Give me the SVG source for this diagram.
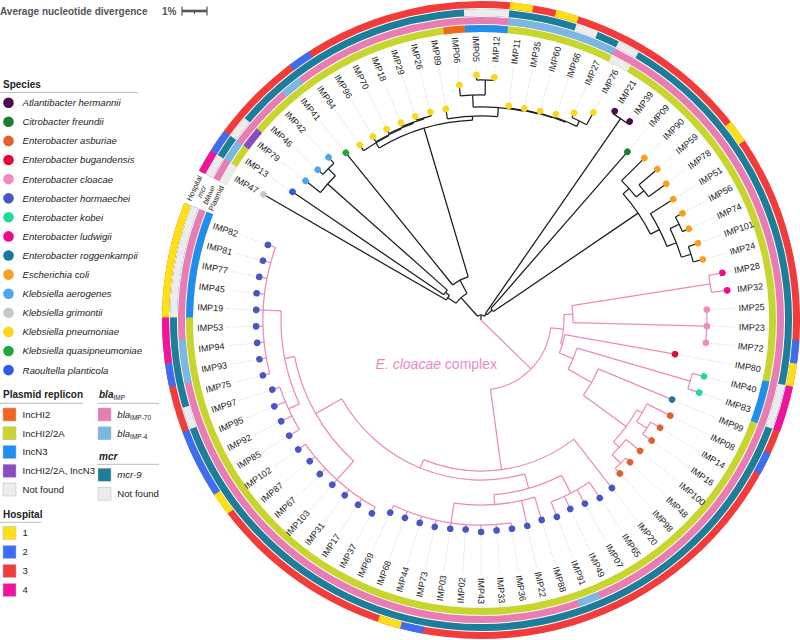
<svg xmlns="http://www.w3.org/2000/svg" width="800" height="640" viewBox="0 0 800 640">
<style>
text{font-family:"Liberation Sans",Arial,sans-serif}
.ttl{font-size:10px;font-weight:bold;fill:#555}
.hd{font-size:10px;font-weight:bold;fill:#222}
.lg{font-size:9.6px;fill:#222}
.it{font-style:italic}
.ul{stroke:#aaa;stroke-width:0.8}
.sq{stroke:#bbb;stroke-width:0.5}
.rg{fill:none;stroke-width:7}
.t{fill:none;stroke-width:1.25}
.k{stroke:#1c1c1c}
.p{stroke:#ea8bbf}
.dl{fill:none;stroke:#c4c4c4;stroke-width:0.7;stroke-dasharray:1 1.6}
.lb{font-size:9px;fill:#1a1a1a}
.fl{text-anchor:end}
.rl{font-size:7.5px;fill:#222;text-anchor:middle}
.c-lime{stroke:#c8d52e}.c-gray{stroke:#ececec}.c-pur{stroke:#8a4cc0}.c-org{stroke:#f3661c}.c-inc{stroke:#1e8ff0}
.c-pink{stroke:#e97db3}.c-lb{stroke:#7ab8e3}.c-teal{stroke:#1d7e9a}
.c-red{stroke:#f23c3c}.c-yel{stroke:#ffe014}.c-blu{stroke:#3b6ef0}.c-mag{stroke:#f0149c}
.f-lime{fill:#c8d52e}.f-gray{fill:#ececec}.f-pur{fill:#8a4cc0}.f-org{fill:#f3661c}.f-inc{fill:#1e8ff0}
.f-pink{fill:#e97db3}.f-lb{fill:#7ab8e3}.f-teal{fill:#1d7e9a}
.f-red{fill:#f23c3c}.f-yel{fill:#ffe014}.f-blu{fill:#3b6ef0}.f-mag{fill:#f0149c}
.atl{fill:#4c0b4f}.cit{fill:#1c7d2d}.asb{fill:#e0612c}.bug{fill:#e0083c}.clo{fill:#f18bbe}.hor{fill:#4756c3}.kob{fill:#1fda9d}.lud{fill:#f00b8d}.rog{fill:#1b789a}.eco{fill:#f5a11b}.aer{fill:#4ba6ee}.gri{fill:#c3c8cc}.pne{fill:#fbd61a}.qua{fill:#1ea83d}.rao{fill:#2e5ae6}
</style>

<g id="scale">
<text class="ttl" x="0" y="14.5">Average nucleotide divergence</text>
<text class="ttl" x="162" y="14.5">1%</text>
<path d="M182 11H207" stroke="#555" stroke-width="2.6"/>
<path d="M182 6.5V15.5M207 6.5V15.5M194.5 11V14" stroke="#555" stroke-width="1.2"/>
</g>

<g id="legend-species">
<text class="hd" x="3" y="88">Species</text>
<path class="ul" d="M0 92.5H138"/>
<circle class="atl" cx="8.5" cy="102.7" r="5.3"/><text class="lg it" x="22.5" y="106.1">Atlantibacter hermannii</text>
<circle class="cit" cx="8.5" cy="121.8" r="5.3"/><text class="lg it" x="22.5" y="125.2">Citrobacter freundii</text>
<circle class="asb" cx="8.5" cy="140.9" r="5.3"/><text class="lg it" x="22.5" y="144.3">Enterobacter asburiae</text>
<circle class="bug" cx="8.5" cy="160" r="5.3"/><text class="lg it" x="22.5" y="163.4">Enterobacter bugandensis</text>
<circle class="clo" cx="8.5" cy="179.1" r="5.3"/><text class="lg it" x="22.5" y="182.5">Enterobacter cloacae</text>
<circle class="hor" cx="8.5" cy="198.2" r="5.3"/><text class="lg it" x="22.5" y="201.6">Enterobacter hormaechei</text>
<circle class="kob" cx="8.5" cy="217.3" r="5.3"/><text class="lg it" x="22.5" y="220.7">Enterobacter kobei</text>
<circle class="lud" cx="8.5" cy="236.4" r="5.3"/><text class="lg it" x="22.5" y="239.8">Enterobacter ludwigii</text>
<circle class="rog" cx="8.5" cy="255.5" r="5.3"/><text class="lg it" x="22.5" y="258.9">Enterobacter roggenkampii</text>
<circle class="eco" cx="8.5" cy="274.6" r="5.3"/><text class="lg it" x="22.5" y="278">Escherichia coli</text>
<circle class="aer" cx="8.5" cy="293.7" r="5.3"/><text class="lg it" x="22.5" y="297.1">Klebsiella aerogenes</text>
<circle class="gri" cx="8.5" cy="312.8" r="5.3"/><text class="lg it" x="22.5" y="316.2">Klebsiella grimontii</text>
<circle class="pne" cx="8.5" cy="331.9" r="5.3"/><text class="lg it" x="22.5" y="335.3">Klebsiella pneumoniae</text>
<circle class="qua" cx="8.5" cy="351" r="5.3"/><text class="lg it" x="22.5" y="354.4">Klebsiella quasipneumoniae</text>
<circle class="rao" cx="8.5" cy="370.1" r="5.3"/><text class="lg it" x="22.5" y="373.5">Raoultella planticola</text>
</g>

<g id="legend-plasmid">
<text class="hd" x="3" y="398">Plasmid replicon</text>
<path class="ul" d="M0 403.3H83"/>
<rect class="sq f-org" x="3" y="408" width="13" height="13"/><text class="lg" x="22.5" y="417.9">IncHI2</text>
<rect class="sq f-lime" x="3" y="426.8" width="13" height="13"/><text class="lg" x="22.5" y="436.7">IncHI2/2A</text>
<rect class="sq f-inc" x="3" y="445.5" width="13" height="13"/><text class="lg" x="22.5" y="455.4">IncN3</text>
<rect class="sq f-pur" x="3" y="464.3" width="13" height="13"/><text class="lg" x="22.5" y="474.2">IncHI2/2A, IncN3</text>
<rect class="sq f-gray" x="3" y="483" width="13" height="13"/><text class="lg" x="22.5" y="492.9">Not found</text>
</g>

<g id="legend-bla">
<text class="hd it" x="99" y="398">bla<tspan font-size="6.5" font-weight="normal" font-style="normal" dy="2">IMP</tspan></text>
<path class="ul" d="M97 403.3H159"/>
<rect class="sq f-pink" x="98" y="408" width="13" height="13"/><text class="lg" x="117.3" y="417.9"><tspan class="it">bla</tspan><tspan font-size="6.5" dy="2">IMP-70</tspan></text>
<rect class="sq f-lb" x="98" y="426.8" width="13" height="13"/><text class="lg" x="117.3" y="436.7"><tspan class="it">bla</tspan><tspan font-size="6.5" dy="2">IMP-4</tspan></text>
</g>

<g id="legend-mcr">
<text class="hd it" x="99" y="460">mcr</text>
<path class="ul" d="M97 464.3H159"/>
<rect class="sq f-teal" x="98" y="468.2" width="13" height="13"/><text class="lg it" x="117.3" y="478.1">mcr-9</text>
<rect class="sq f-gray" x="98" y="487.2" width="13" height="13"/><text class="lg" x="117.3" y="497.1">Not found</text>
</g>

<g id="legend-hospital">
<text class="hd" x="3" y="518">Hospital</text>
<path class="ul" d="M0 522.3H41"/>
<rect class="sq f-yel" x="3" y="526.5" width="13" height="13"/><text class="lg" x="22.5" y="536.4">1</text>
<rect class="sq f-blu" x="3" y="545.5" width="13" height="13"/><text class="lg" x="22.5" y="555.4">2</text>
<rect class="sq f-red" x="3" y="564.5" width="13" height="13"/><text class="lg" x="22.5" y="574.4">3</text>
<rect class="sq f-mag" x="3" y="583.5" width="13" height="13"/><text class="lg" x="22.5" y="593.4">4</text>
</g>

<g id="rings" transform="translate(481,320)">
<g id="ring-plasmid">
<circle r="291.5" class="rg c-lime" pathLength="360" stroke-dasharray="353.64 400" transform="rotate(207.895)"/>
<circle r="291.5" class="rg c-gray" pathLength="360" stroke-dasharray="4.21 400" transform="rotate(207.895)"/>
<circle r="291.5" class="rg c-gray" pathLength="360" stroke-dasharray="4.21 400" transform="rotate(296.305)"/>
<circle r="291.5" class="rg c-pur" pathLength="360" stroke-dasharray="4.21 400" transform="rotate(216.315)"/>
<circle r="291.5" class="rg c-org" pathLength="360" stroke-dasharray="4.21 400" transform="rotate(262.625)"/>
<circle r="291.5" class="rg c-inc" pathLength="360" stroke-dasharray="8.42 400" transform="rotate(266.835)"/>
<circle r="291.5" class="rg c-inc" pathLength="360" stroke-dasharray="8.42 400" transform="rotate(12.085)"/>
<circle r="291.5" class="rg c-inc" pathLength="360" stroke-dasharray="21.05 400" transform="rotate(180.485)"/>
</g>
<g id="ring-bla">
<circle r="299.5" class="rg c-pink" pathLength="360" stroke-dasharray="353.64 400" transform="rotate(207.895)"/>
<circle r="299.5" class="rg c-lb" pathLength="360" stroke-dasharray="4.21 400" transform="rotate(212.105)"/>
<circle r="299.5" class="rg c-lb" pathLength="360" stroke-dasharray="4.21 400" transform="rotate(228.945)"/>
<circle r="299.5" class="rg c-lb" pathLength="360" stroke-dasharray="21.05 400" transform="rotate(275.255)"/>
<circle r="299.5" class="rg c-lb" pathLength="360" stroke-dasharray="4.21 400" transform="rotate(66.815)"/>
<circle r="299.5" class="rg c-lb" pathLength="360" stroke-dasharray="8.42 400" transform="rotate(167.855)"/>
</g>
<g id="ring-mcr">
<circle r="307.5" class="rg c-teal" pathLength="360" stroke-dasharray="353.64 400" transform="rotate(207.895)"/>
<circle r="307.5" class="rg c-gray" pathLength="360" stroke-dasharray="4.21 400" transform="rotate(207.895)"/>
<circle r="307.5" class="rg c-gray" pathLength="360" stroke-dasharray="4.21 400" transform="rotate(216.315)"/>
<circle r="307.5" class="rg c-gray" pathLength="360" stroke-dasharray="8.42 400" transform="rotate(266.835)"/>
<circle r="307.5" class="rg c-gray" pathLength="360" stroke-dasharray="4.21 400" transform="rotate(287.885)"/>
<circle r="307.5" class="rg c-gray" pathLength="360" stroke-dasharray="4.21 400" transform="rotate(296.305)"/>
<circle r="307.5" class="rg c-gray" pathLength="360" stroke-dasharray="8.42 400" transform="rotate(12.085)"/>
<circle r="307.5" class="rg c-gray" pathLength="360" stroke-dasharray="4.21 400" transform="rotate(159.435)"/>
<circle r="307.5" class="rg c-gray" pathLength="360" stroke-dasharray="21.05 400" transform="rotate(180.485)"/>
</g>
<g id="ring-hospital">
<circle r="315.5" class="rg c-red" pathLength="360" stroke-dasharray="353.64 400" transform="rotate(207.895)"/>
<circle r="315.5" class="rg c-mag" pathLength="360" stroke-dasharray="4.21 400" transform="rotate(207.895)"/>
<circle r="315.5" class="rg c-mag" pathLength="360" stroke-dasharray="8.42 400" transform="rotate(12.085)"/>
<circle r="315.5" class="rg c-mag" pathLength="360" stroke-dasharray="8.42 400" transform="rotate(172.065)"/>
<circle r="315.5" class="rg c-blu" pathLength="360" stroke-dasharray="4.21 400" transform="rotate(212.105)"/>
<circle r="315.5" class="rg c-blu" pathLength="360" stroke-dasharray="4.21 400" transform="rotate(233.155)"/>
<circle r="315.5" class="rg c-blu" pathLength="360" stroke-dasharray="4.21 400" transform="rotate(3.665)"/>
<circle r="315.5" class="rg c-blu" pathLength="360" stroke-dasharray="4.21 400" transform="rotate(24.715)"/>
<circle r="315.5" class="rg c-blu" pathLength="360" stroke-dasharray="4.21 400" transform="rotate(100.495)"/>
<circle r="315.5" class="rg c-blu" pathLength="360" stroke-dasharray="12.63 400" transform="rotate(146.805)"/>
<circle r="315.5" class="rg c-blu" pathLength="360" stroke-dasharray="4.21 400" transform="rotate(167.855)"/>
<circle r="315.5" class="rg c-yel" pathLength="360" stroke-dasharray="4.21 400" transform="rotate(275.255)"/>
<circle r="315.5" class="rg c-yel" pathLength="360" stroke-dasharray="4.21 400" transform="rotate(283.675)"/>
<circle r="315.5" class="rg c-yel" pathLength="360" stroke-dasharray="4.21 400" transform="rotate(321.565)"/>
<circle r="315.5" class="rg c-yel" pathLength="360" stroke-dasharray="4.21 400" transform="rotate(7.875)"/>
<circle r="315.5" class="rg c-yel" pathLength="360" stroke-dasharray="4.21 400" transform="rotate(104.705)"/>
<circle r="315.5" class="rg c-yel" pathLength="360" stroke-dasharray="4.21 400" transform="rotate(142.595)"/>
<circle r="315.5" class="rg c-yel" pathLength="360" stroke-dasharray="21.05 400" transform="rotate(180.485)"/>
</g>
<g id="ring-labels" transform="rotate(204.7)">
<text class="rl" transform="translate(315.5,0) rotate(90)" dy="0.35em">Hospital</text>
<text class="rl it" transform="translate(307.5,0) rotate(90)" dy="0.35em">mcr</text>
<text class="rl" transform="translate(299.5,0) rotate(90)" dy="0.35em"><tspan class="it">bla</tspan><tspan font-size="5.5">IMP</tspan></text>
<text class="rl" transform="translate(291.5,0) rotate(90)" dy="0.35em">Plasmid</text>
</g>
</g>

<g id="connectors" transform="translate(481,320)">
<g id="black-clade" class="t k">
<path d="M0 0H5" transform="rotate(269.835)"/>
<circle r="5" pathLength="360" stroke-dasharray="83.47 400" transform="rotate(228.1)"/>
<path d="M5 0H30" transform="rotate(228.1)"/>
<path d="M5 0H8" transform="rotate(311.57)"/>
<circle r="30" pathLength="360" stroke-dasharray="28.31 400" transform="rotate(213.95)"/>
<path d="M30 0H40" transform="rotate(213.95)"/>
<path d="M30 0H45" transform="rotate(242.26)"/>
<circle r="40" pathLength="360" stroke-dasharray="7.9 400" transform="rotate(210)"/>
<path d="M40 0H251" transform="rotate(210)"/>
<path d="M40 0H45" transform="rotate(217.9)"/>
<circle r="45" pathLength="360" stroke-dasharray="7.37 400" transform="rotate(214.21)"/>
<path d="M45 0H228" transform="rotate(214.21)"/>
<path d="M45 0H205" transform="rotate(221.58)"/>
<circle r="205" pathLength="360" stroke-dasharray="6.32 400" transform="rotate(218.42)"/>
<path d="M205 0H224" transform="rotate(218.42)"/>
<path d="M205 0H215" transform="rotate(224.74)"/>
<circle r="215" pathLength="360" stroke-dasharray="4.21 400" transform="rotate(222.63)"/>
<path d="M215 0H222" transform="rotate(222.63)"/>
<path d="M215 0H223" transform="rotate(226.84)"/>
<circle r="45" pathLength="360" stroke-dasharray="22.42 400" transform="rotate(231.05)"/>
<path d="M45 0H215" transform="rotate(231.05)"/>
<path d="M45 0H200" transform="rotate(253.465)"/>
<circle r="200" pathLength="360" stroke-dasharray="28.25 400" transform="rotate(239.34)"/>
<path d="M200 0H206" transform="rotate(239.34)"/>
<path d="M200 0H204" transform="rotate(267.59)"/>
<circle r="206" pathLength="360" stroke-dasharray="8.16 400" transform="rotate(235.26)"/>
<path d="M206 0H213" transform="rotate(235.26)"/>
<path d="M206 0H207" transform="rotate(243.42)"/>
<circle r="207" pathLength="360" stroke-dasharray="7.9 400" transform="rotate(239.47)"/>
<path d="M207 0H213" transform="rotate(239.47)"/>
<path d="M207 0H208" transform="rotate(247.365)"/>
<circle r="208" pathLength="360" stroke-dasharray="7.37 400" transform="rotate(243.68)"/>
<path d="M208 0H213" transform="rotate(243.68)"/>
<path d="M208 0H209" transform="rotate(251.05)"/>
<circle r="209" pathLength="360" stroke-dasharray="6.32 400" transform="rotate(247.89)"/>
<path d="M209 0H213" transform="rotate(247.89)"/>
<path d="M209 0H210" transform="rotate(254.205)"/>
<circle r="210" pathLength="360" stroke-dasharray="4.21 400" transform="rotate(252.1)"/>
<path d="M210 0H214" transform="rotate(252.1)"/>
<path d="M210 0H214" transform="rotate(256.31)"/>
<circle r="204" pathLength="360" stroke-dasharray="14.15 400" transform="rotate(260.52)"/>
<path d="M204 0H214" transform="rotate(260.52)"/>
<path d="M204 0H213" transform="rotate(274.665)"/>
<circle r="213" pathLength="360" stroke-dasharray="13.55 400" transform="rotate(267.89)"/>
<path d="M213 0H225" transform="rotate(267.89)"/>
<path d="M213 0H214" transform="rotate(281.44)"/>
<circle r="225" pathLength="360" stroke-dasharray="6.32 400" transform="rotate(264.73)"/>
<path d="M225 0H236" transform="rotate(264.73)"/>
<path d="M225 0H240" transform="rotate(271.045)"/>
<circle r="240" pathLength="360" stroke-dasharray="4.21 400" transform="rotate(268.94)"/>
<path d="M240 0H245" transform="rotate(268.94)"/>
<path d="M240 0H243" transform="rotate(273.15)"/>
<circle r="214" pathLength="360" stroke-dasharray="8.16 400" transform="rotate(277.36)"/>
<path d="M214 0H216" transform="rotate(277.36)"/>
<circle r="214.5" pathLength="360" stroke-dasharray="7.9 400" transform="rotate(281.57)"/>
<path d="M214.5 0H216" transform="rotate(281.57)"/>
<circle r="215" pathLength="360" stroke-dasharray="7.37 400" transform="rotate(285.78)"/>
<path d="M215 0H217" transform="rotate(285.78)"/>
<path d="M215 0H216" transform="rotate(293.15)"/>
<circle r="216" pathLength="360" stroke-dasharray="6.32 400" transform="rotate(289.99)"/>
<path d="M216 0H219" transform="rotate(289.99)"/>
<path d="M216 0H222" transform="rotate(296.305)"/>
<circle r="222" pathLength="360" stroke-dasharray="4.21 400" transform="rotate(294.2)"/>
<path d="M222 0H227" transform="rotate(294.2)"/>
<path d="M222 0H236" transform="rotate(298.41)"/>
<circle r="8" pathLength="360" stroke-dasharray="13.69 400" transform="rotate(304.725)"/>
<path d="M8 0H245" transform="rotate(304.725)"/>
<path d="M8 0H15" transform="rotate(318.41)"/>
<circle r="245" pathLength="360" stroke-dasharray="4.21 400" transform="rotate(302.62)"/>
<path d="M245 0H248" transform="rotate(302.62)"/>
<path d="M245 0H248" transform="rotate(306.83)"/>
<circle r="15" pathLength="360" stroke-dasharray="14.74 400" transform="rotate(311.04)"/>
<path d="M15 0H223" transform="rotate(311.04)"/>
<path d="M15 0H190" transform="rotate(325.775)"/>
<circle r="190" pathLength="360" stroke-dasharray="14.73 400" transform="rotate(318.41)"/>
<path d="M190 0H198" transform="rotate(318.41)"/>
<path d="M190 0H200" transform="rotate(333.14)"/>
<circle r="198" pathLength="360" stroke-dasharray="6.32 400" transform="rotate(315.25)"/>
<path d="M198 0H230" transform="rotate(315.25)"/>
<path d="M198 0H208" transform="rotate(321.565)"/>
<circle r="208" pathLength="360" stroke-dasharray="4.21 400" transform="rotate(319.46)"/>
<path d="M208 0H232" transform="rotate(319.46)"/>
<path d="M208 0H230" transform="rotate(323.67)"/>
<circle r="200" pathLength="360" stroke-dasharray="10.53 400" transform="rotate(327.88)"/>
<path d="M200 0H227" transform="rotate(327.88)"/>
<path d="M200 0H210" transform="rotate(338.405)"/>
<circle r="210" pathLength="360" stroke-dasharray="8.42 400" transform="rotate(334.195)"/>
<path d="M210 0H220" transform="rotate(334.195)"/>
<path d="M210 0H220" transform="rotate(342.615)"/>
<circle r="220" pathLength="360" stroke-dasharray="4.21 400" transform="rotate(332.09)"/>
<path d="M220 0H228" transform="rotate(332.09)"/>
<path d="M220 0H227" transform="rotate(336.3)"/>
<circle r="220" pathLength="360" stroke-dasharray="4.21 400" transform="rotate(340.51)"/>
<path d="M220 0H230" transform="rotate(340.51)"/>
<path d="M220 0H230" transform="rotate(344.72)"/>
</g>
<g id="cloacae-clade" class="t p">
<path d="M0 0H70" transform="rotate(44.285)"/>
<circle r="70" pathLength="360" stroke-dasharray="75.85 400" transform="rotate(6.36)"/>
<path d="M70 0H83" transform="rotate(6.36)"/>
<path d="M70 0H151" transform="rotate(82.21)"/>
<circle r="83" pathLength="360" stroke-dasharray="20.13 400" transform="rotate(-3.7)"/>
<path d="M83 0H92" transform="rotate(-3.7)"/>
<path d="M83 0H85" transform="rotate(16.425)"/>
<circle r="92" pathLength="360" stroke-dasharray="10.53 400" transform="rotate(-8.965)"/>
<path d="M92 0H232" transform="rotate(351.035)"/>
<path d="M92 0H226" transform="rotate(1.56)"/>
<circle r="232" pathLength="360" stroke-dasharray="4.21 400" transform="rotate(348.93)"/>
<path d="M232 0H246" transform="rotate(348.93)"/>
<path d="M232 0H248" transform="rotate(353.14)"/>
<circle r="226" pathLength="360" stroke-dasharray="8.42 400" transform="rotate(357.35)"/>
<circle r="85" pathLength="360" stroke-dasharray="12.89 400" transform="rotate(9.98)"/>
<path d="M85 0H197" transform="rotate(9.98)"/>
<path d="M85 0H100" transform="rotate(22.87)"/>
<circle r="100" pathLength="360" stroke-dasharray="13.16 400" transform="rotate(16.295)"/>
<path d="M100 0H218" transform="rotate(16.295)"/>
<path d="M100 0H127" transform="rotate(29.45)"/>
<circle r="218" pathLength="360" stroke-dasharray="4.21 400" transform="rotate(14.19)"/>
<path d="M218 0H230" transform="rotate(14.19)"/>
<path d="M218 0H230" transform="rotate(18.4)"/>
<circle r="127" pathLength="360" stroke-dasharray="13.69 400" transform="rotate(22.61)"/>
<path d="M127 0H207" transform="rotate(22.61)"/>
<path d="M127 0H180" transform="rotate(36.295)"/>
<circle r="180" pathLength="360" stroke-dasharray="12.63 400" transform="rotate(29.98)"/>
<path d="M180 0H186" transform="rotate(29.98)"/>
<path d="M180 0H188" transform="rotate(42.61)"/>
<circle r="186" pathLength="360" stroke-dasharray="6.32 400" transform="rotate(26.82)"/>
<path d="M186 0H212" transform="rotate(26.82)"/>
<path d="M186 0H198" transform="rotate(33.135)"/>
<circle r="198" pathLength="360" stroke-dasharray="4.21 400" transform="rotate(31.03)"/>
<path d="M198 0H209" transform="rotate(31.03)"/>
<path d="M198 0H209" transform="rotate(35.24)"/>
<circle r="188" pathLength="360" stroke-dasharray="6.32 400" transform="rotate(39.45)"/>
<path d="M188 0H206" transform="rotate(39.45)"/>
<path d="M188 0H200" transform="rotate(45.765)"/>
<circle r="200" pathLength="360" stroke-dasharray="4.21 400" transform="rotate(43.66)"/>
<path d="M200 0H206" transform="rotate(43.66)"/>
<path d="M200 0H207" transform="rotate(47.87)"/>
<circle r="151" pathLength="360" stroke-dasharray="60.26 400" transform="rotate(52.08)"/>
<path d="M151 0H213" transform="rotate(52.08)"/>
<path d="M151 0H160" transform="rotate(112.335)"/>
<circle r="160" pathLength="360" stroke-dasharray="76.31 400" transform="rotate(74.18)"/>
<path d="M160 0H175" transform="rotate(74.18)"/>
<path d="M160 0H190" transform="rotate(150.49)"/>
<circle r="175" pathLength="360" stroke-dasharray="23.16 400" transform="rotate(62.605)"/>
<path d="M175 0H195" transform="rotate(62.605)"/>
<path d="M175 0H185" transform="rotate(85.76)"/>
<circle r="195" pathLength="360" stroke-dasharray="12.63 400" transform="rotate(56.29)"/>
<path d="M195 0H214" transform="rotate(56.29)"/>
<path d="M195 0H211" transform="rotate(60.5)"/>
<path d="M195 0H209" transform="rotate(64.71)"/>
<path d="M195 0H211" transform="rotate(68.92)"/>
<circle r="185" pathLength="360" stroke-dasharray="25.26 400" transform="rotate(73.13)"/>
<path d="M185 0H209" transform="rotate(73.13)"/>
<path d="M185 0H211" transform="rotate(77.34)"/>
<path d="M185 0H205" transform="rotate(98.39)"/>
<circle r="205" pathLength="360" stroke-dasharray="33.68 400" transform="rotate(81.55)"/>
<path d="M205 0H211" transform="rotate(81.55)"/>
<path d="M205 0H211" transform="rotate(85.76)"/>
<path d="M205 0H212" transform="rotate(89.97)"/>
<path d="M205 0H210" transform="rotate(94.18)"/>
<path d="M205 0H211" transform="rotate(98.39)"/>
<path d="M205 0H212" transform="rotate(102.6)"/>
<path d="M205 0H212" transform="rotate(106.81)"/>
<path d="M205 0H212" transform="rotate(111.02)"/>
<path d="M205 0H213" transform="rotate(115.23)"/>
<circle r="190" pathLength="360" stroke-dasharray="36.84 400" transform="rotate(132.07)"/>
<path d="M190 0H215" transform="rotate(132.07)"/>
<path d="M190 0H200" transform="rotate(168.91)"/>
<circle r="215" pathLength="360" stroke-dasharray="25.26 400" transform="rotate(119.44)"/>
<path d="M215 0H222" transform="rotate(119.44)"/>
<path d="M215 0H222" transform="rotate(123.65)"/>
<path d="M215 0H222" transform="rotate(127.86)"/>
<path d="M215 0H222" transform="rotate(132.07)"/>
<path d="M215 0H223" transform="rotate(136.28)"/>
<path d="M215 0H222" transform="rotate(140.49)"/>
<path d="M215 0H224" transform="rotate(144.7)"/>
<circle r="200" pathLength="360" stroke-dasharray="27.37 400" transform="rotate(155.225)"/>
<path d="M200 0H212" transform="rotate(155.225)"/>
<path d="M200 0H218" transform="rotate(182.59)"/>
<circle r="212" pathLength="360" stroke-dasharray="12.63 400" transform="rotate(148.91)"/>
<path d="M212 0H224" transform="rotate(148.91)"/>
<path d="M212 0H224" transform="rotate(153.12)"/>
<path d="M212 0H224" transform="rotate(157.33)"/>
<path d="M212 0H220" transform="rotate(161.54)"/>
<circle r="218" pathLength="360" stroke-dasharray="33.68 400" transform="rotate(165.75)"/>
<path d="M218 0H225" transform="rotate(165.75)"/>
<path d="M218 0H225" transform="rotate(169.96)"/>
<path d="M218 0H225" transform="rotate(174.17)"/>
<path d="M218 0H225" transform="rotate(178.38)"/>
<path d="M218 0H225" transform="rotate(182.59)"/>
<path d="M218 0H226" transform="rotate(186.8)"/>
<path d="M218 0H226" transform="rotate(191.01)"/>
<path d="M218 0H226" transform="rotate(195.22)"/>
<path d="M218 0H226" transform="rotate(199.43)"/>
</g>
</g>

<text x="497" y="369" font-size="14" fill="#ea8bbf" text-anchor="end"><tspan font-style="italic">E. cloacae</tspan> complex</text>

<g id="leaves" transform="translate(481,320)">
<g id="IMP47" transform="rotate(210)"><path class="dl" d="M251 0H255"/><circle class="gri" cx="251" r="3.3"/><text class="lb fl" transform="rotate(180)" x="-258" dy=".35em">IMP47</text></g>
<g id="IMP13" transform="rotate(214.21)"><path class="dl" d="M228 0H255"/><circle class="rao" cx="228" r="3.3"/><text class="lb fl" transform="rotate(180)" x="-258" dy=".35em">IMP13</text></g>
<g id="IMP79" transform="rotate(218.42)"><path class="dl" d="M224 0H255"/><circle class="aer" cx="224" r="3.3"/><text class="lb fl" transform="rotate(180)" x="-258" dy=".35em">IMP79</text></g>
<g id="IMP46" transform="rotate(222.63)"><path class="dl" d="M222 0H255"/><circle class="aer" cx="222" r="3.3"/><text class="lb fl" transform="rotate(180)" x="-258" dy=".35em">IMP46</text></g>
<g id="IMP42" transform="rotate(226.84)"><path class="dl" d="M223 0H255"/><circle class="aer" cx="223" r="3.3"/><text class="lb fl" transform="rotate(180)" x="-258" dy=".35em">IMP42</text></g>
<g id="IMP41" transform="rotate(231.05)"><path class="dl" d="M215 0H255"/><circle class="qua" cx="215" r="3.3"/><text class="lb fl" transform="rotate(180)" x="-258" dy=".35em">IMP41</text></g>
<g id="IMP84" transform="rotate(235.26)"><path class="dl" d="M213 0H255"/><circle class="pne" cx="213" r="3.3"/><text class="lb fl" transform="rotate(180)" x="-258" dy=".35em">IMP84</text></g>
<g id="IMP96" transform="rotate(239.47)"><path class="dl" d="M213 0H255"/><circle class="pne" cx="213" r="3.3"/><text class="lb fl" transform="rotate(180)" x="-258" dy=".35em">IMP96</text></g>
<g id="IMP70" transform="rotate(243.68)"><path class="dl" d="M213 0H255"/><circle class="pne" cx="213" r="3.3"/><text class="lb fl" transform="rotate(180)" x="-258" dy=".35em">IMP70</text></g>
<g id="IMP18" transform="rotate(247.89)"><path class="dl" d="M213 0H255"/><circle class="pne" cx="213" r="3.3"/><text class="lb fl" transform="rotate(180)" x="-258" dy=".35em">IMP18</text></g>
<g id="IMP29" transform="rotate(252.1)"><path class="dl" d="M214 0H255"/><circle class="pne" cx="214" r="3.3"/><text class="lb fl" transform="rotate(180)" x="-258" dy=".35em">IMP29</text></g>
<g id="IMP26" transform="rotate(256.31)"><path class="dl" d="M214 0H255"/><circle class="pne" cx="214" r="3.3"/><text class="lb fl" transform="rotate(180)" x="-258" dy=".35em">IMP26</text></g>
<g id="IMP89" transform="rotate(260.52)"><path class="dl" d="M214 0H255"/><circle class="pne" cx="214" r="3.3"/><text class="lb fl" transform="rotate(180)" x="-258" dy=".35em">IMP89</text></g>
<g id="IMP06" transform="rotate(264.73)"><path class="dl" d="M236 0H255"/><circle class="pne" cx="236" r="3.3"/><text class="lb fl" transform="rotate(180)" x="-258" dy=".35em">IMP06</text></g>
<g id="IMP05" transform="rotate(268.94)"><path class="dl" d="M245 0H255"/><circle class="pne" cx="245" r="3.3"/><text class="lb fl" transform="rotate(180)" x="-258" dy=".35em">IMP05</text></g>
<g id="IMP12" transform="rotate(273.15)"><path class="dl" d="M243 0H255"/><circle class="pne" cx="243" r="3.3"/><text class="lb" x="258" dy=".35em">IMP12</text></g>
<g id="IMP11" transform="rotate(277.36)"><path class="dl" d="M216 0H255"/><circle class="pne" cx="216" r="3.3"/><text class="lb" x="258" dy=".35em">IMP11</text></g>
<g id="IMP35" transform="rotate(281.57)"><path class="dl" d="M216 0H255"/><circle class="pne" cx="216" r="3.3"/><text class="lb" x="258" dy=".35em">IMP35</text></g>
<g id="IMP60" transform="rotate(285.78)"><path class="dl" d="M217 0H255"/><circle class="pne" cx="217" r="3.3"/><text class="lb" x="258" dy=".35em">IMP60</text></g>
<g id="IMP66" transform="rotate(289.99)"><path class="dl" d="M219 0H255"/><circle class="pne" cx="219" r="3.3"/><text class="lb" x="258" dy=".35em">IMP66</text></g>
<g id="IMP27" transform="rotate(294.2)"><path class="dl" d="M227 0H255"/><circle class="pne" cx="227" r="3.3"/><text class="lb" x="258" dy=".35em">IMP27</text></g>
<g id="IMP76" transform="rotate(298.41)"><path class="dl" d="M236 0H255"/><circle class="pne" cx="236" r="3.3"/><text class="lb" x="258" dy=".35em">IMP76</text></g>
<g id="IMP21" transform="rotate(302.62)"><path class="dl" d="M248 0H255"/><circle class="atl" cx="248" r="3.3"/><text class="lb" x="258" dy=".35em">IMP21</text></g>
<g id="IMP39" transform="rotate(306.83)"><path class="dl" d="M248 0H255"/><circle class="atl" cx="248" r="3.3"/><text class="lb" x="258" dy=".35em">IMP39</text></g>
<g id="IMP09" transform="rotate(311.04)"><path class="dl" d="M223 0H255"/><circle class="cit" cx="223" r="3.3"/><text class="lb" x="258" dy=".35em">IMP09</text></g>
<g id="IMP90" transform="rotate(315.25)"><path class="dl" d="M230 0H255"/><circle class="eco" cx="230" r="3.3"/><text class="lb" x="258" dy=".35em">IMP90</text></g>
<g id="IMP59" transform="rotate(319.46)"><path class="dl" d="M232 0H255"/><circle class="eco" cx="232" r="3.3"/><text class="lb" x="258" dy=".35em">IMP59</text></g>
<g id="IMP78" transform="rotate(323.67)"><path class="dl" d="M230 0H255"/><circle class="eco" cx="230" r="3.3"/><text class="lb" x="258" dy=".35em">IMP78</text></g>
<g id="IMP51" transform="rotate(327.88)"><path class="dl" d="M227 0H255"/><circle class="eco" cx="227" r="3.3"/><text class="lb" x="258" dy=".35em">IMP51</text></g>
<g id="IMP56" transform="rotate(332.09)"><path class="dl" d="M228 0H255"/><circle class="eco" cx="228" r="3.3"/><text class="lb" x="258" dy=".35em">IMP56</text></g>
<g id="IMP74" transform="rotate(336.3)"><path class="dl" d="M227 0H255"/><circle class="eco" cx="227" r="3.3"/><text class="lb" x="258" dy=".35em">IMP74</text></g>
<g id="IMP101" transform="rotate(340.51)"><path class="dl" d="M230 0H255"/><circle class="eco" cx="230" r="3.3"/><text class="lb" x="258" dy=".35em">IMP101</text></g>
<g id="IMP24" transform="rotate(344.72)"><path class="dl" d="M230 0H255"/><circle class="eco" cx="230" r="3.3"/><text class="lb" x="258" dy=".35em">IMP24</text></g>
<g id="IMP28" transform="rotate(348.93)"><path class="dl" d="M246 0H255"/><circle class="lud" cx="246" r="3.3"/><text class="lb" x="258" dy=".35em">IMP28</text></g>
<g id="IMP32" transform="rotate(353.14)"><path class="dl" d="M248 0H255"/><circle class="lud" cx="248" r="3.3"/><text class="lb" x="258" dy=".35em">IMP32</text></g>
<g id="IMP25" transform="rotate(357.35)"><path class="dl" d="M226 0H255"/><circle class="clo" cx="226" r="3.3"/><text class="lb" x="258" dy=".35em">IMP25</text></g>
<g id="IMP23" transform="rotate(1.56)"><path class="dl" d="M226 0H255"/><circle class="clo" cx="226" r="3.3"/><text class="lb" x="258" dy=".35em">IMP23</text></g>
<g id="IMP72" transform="rotate(5.77)"><path class="dl" d="M226 0H255"/><circle class="clo" cx="226" r="3.3"/><text class="lb" x="258" dy=".35em">IMP72</text></g>
<g id="IMP80" transform="rotate(9.98)"><path class="dl" d="M197 0H255"/><circle class="bug" cx="197" r="3.3"/><text class="lb" x="258" dy=".35em">IMP80</text></g>
<g id="IMP40" transform="rotate(14.19)"><path class="dl" d="M230 0H255"/><circle class="kob" cx="230" r="3.3"/><text class="lb" x="258" dy=".35em">IMP40</text></g>
<g id="IMP83" transform="rotate(18.4)"><path class="dl" d="M230 0H255"/><circle class="kob" cx="230" r="3.3"/><text class="lb" x="258" dy=".35em">IMP83</text></g>
<g id="IMP99" transform="rotate(22.61)"><path class="dl" d="M207 0H255"/><circle class="rog" cx="207" r="3.3"/><text class="lb" x="258" dy=".35em">IMP99</text></g>
<g id="IMP08" transform="rotate(26.82)"><path class="dl" d="M212 0H255"/><circle class="asb" cx="212" r="3.3"/><text class="lb" x="258" dy=".35em">IMP08</text></g>
<g id="IMP14" transform="rotate(31.03)"><path class="dl" d="M209 0H255"/><circle class="asb" cx="209" r="3.3"/><text class="lb" x="258" dy=".35em">IMP14</text></g>
<g id="IMP16" transform="rotate(35.24)"><path class="dl" d="M209 0H255"/><circle class="asb" cx="209" r="3.3"/><text class="lb" x="258" dy=".35em">IMP16</text></g>
<g id="IMP100" transform="rotate(39.45)"><path class="dl" d="M206 0H255"/><circle class="asb" cx="206" r="3.3"/><text class="lb" x="258" dy=".35em">IMP100</text></g>
<g id="IMP48" transform="rotate(43.66)"><path class="dl" d="M206 0H255"/><circle class="asb" cx="206" r="3.3"/><text class="lb" x="258" dy=".35em">IMP48</text></g>
<g id="IMP98" transform="rotate(47.87)"><path class="dl" d="M207 0H255"/><circle class="asb" cx="207" r="3.3"/><text class="lb" x="258" dy=".35em">IMP98</text></g>
<g id="IMP20" transform="rotate(52.08)"><path class="dl" d="M213 0H255"/><circle class="hor" cx="213" r="3.3"/><text class="lb" x="258" dy=".35em">IMP20</text></g>
<g id="IMP65" transform="rotate(56.29)"><path class="dl" d="M214 0H255"/><circle class="hor" cx="214" r="3.3"/><text class="lb" x="258" dy=".35em">IMP65</text></g>
<g id="IMP07" transform="rotate(60.5)"><path class="dl" d="M211 0H255"/><circle class="hor" cx="211" r="3.3"/><text class="lb" x="258" dy=".35em">IMP07</text></g>
<g id="IMP49" transform="rotate(64.71)"><path class="dl" d="M209 0H255"/><circle class="hor" cx="209" r="3.3"/><text class="lb" x="258" dy=".35em">IMP49</text></g>
<g id="IMP91" transform="rotate(68.92)"><path class="dl" d="M211 0H255"/><circle class="hor" cx="211" r="3.3"/><text class="lb" x="258" dy=".35em">IMP91</text></g>
<g id="IMP88" transform="rotate(73.13)"><path class="dl" d="M209 0H255"/><circle class="hor" cx="209" r="3.3"/><text class="lb" x="258" dy=".35em">IMP88</text></g>
<g id="IMP22" transform="rotate(77.34)"><path class="dl" d="M211 0H255"/><circle class="hor" cx="211" r="3.3"/><text class="lb" x="258" dy=".35em">IMP22</text></g>
<g id="IMP36" transform="rotate(81.55)"><path class="dl" d="M211 0H255"/><circle class="hor" cx="211" r="3.3"/><text class="lb" x="258" dy=".35em">IMP36</text></g>
<g id="IMP33" transform="rotate(85.76)"><path class="dl" d="M211 0H255"/><circle class="hor" cx="211" r="3.3"/><text class="lb" x="258" dy=".35em">IMP33</text></g>
<g id="IMP43" transform="rotate(89.97)"><path class="dl" d="M212 0H255"/><circle class="hor" cx="212" r="3.3"/><text class="lb" x="258" dy=".35em">IMP43</text></g>
<g id="IMP02" transform="rotate(94.18)"><path class="dl" d="M210 0H255"/><circle class="hor" cx="210" r="3.3"/><text class="lb fl" transform="rotate(180)" x="-258" dy=".35em">IMP02</text></g>
<g id="IMP03" transform="rotate(98.39)"><path class="dl" d="M211 0H255"/><circle class="hor" cx="211" r="3.3"/><text class="lb fl" transform="rotate(180)" x="-258" dy=".35em">IMP03</text></g>
<g id="IMP73" transform="rotate(102.6)"><path class="dl" d="M212 0H255"/><circle class="hor" cx="212" r="3.3"/><text class="lb fl" transform="rotate(180)" x="-258" dy=".35em">IMP73</text></g>
<g id="IMP44" transform="rotate(106.81)"><path class="dl" d="M212 0H255"/><circle class="hor" cx="212" r="3.3"/><text class="lb fl" transform="rotate(180)" x="-258" dy=".35em">IMP44</text></g>
<g id="IMP68" transform="rotate(111.02)"><path class="dl" d="M212 0H255"/><circle class="hor" cx="212" r="3.3"/><text class="lb fl" transform="rotate(180)" x="-258" dy=".35em">IMP68</text></g>
<g id="IMP69" transform="rotate(115.23)"><path class="dl" d="M213 0H255"/><circle class="hor" cx="213" r="3.3"/><text class="lb fl" transform="rotate(180)" x="-258" dy=".35em">IMP69</text></g>
<g id="IMP37" transform="rotate(119.44)"><path class="dl" d="M222 0H255"/><circle class="hor" cx="222" r="3.3"/><text class="lb fl" transform="rotate(180)" x="-258" dy=".35em">IMP37</text></g>
<g id="IMP17" transform="rotate(123.65)"><path class="dl" d="M222 0H255"/><circle class="hor" cx="222" r="3.3"/><text class="lb fl" transform="rotate(180)" x="-258" dy=".35em">IMP17</text></g>
<g id="IMP31" transform="rotate(127.86)"><path class="dl" d="M222 0H255"/><circle class="hor" cx="222" r="3.3"/><text class="lb fl" transform="rotate(180)" x="-258" dy=".35em">IMP31</text></g>
<g id="IMP103" transform="rotate(132.07)"><path class="dl" d="M222 0H255"/><circle class="hor" cx="222" r="3.3"/><text class="lb fl" transform="rotate(180)" x="-258" dy=".35em">IMP103</text></g>
<g id="IMP67" transform="rotate(136.28)"><path class="dl" d="M223 0H255"/><circle class="hor" cx="223" r="3.3"/><text class="lb fl" transform="rotate(180)" x="-258" dy=".35em">IMP67</text></g>
<g id="IMP87" transform="rotate(140.49)"><path class="dl" d="M222 0H255"/><circle class="hor" cx="222" r="3.3"/><text class="lb fl" transform="rotate(180)" x="-258" dy=".35em">IMP87</text></g>
<g id="IMP102" transform="rotate(144.7)"><path class="dl" d="M224 0H255"/><circle class="hor" cx="224" r="3.3"/><text class="lb fl" transform="rotate(180)" x="-258" dy=".35em">IMP102</text></g>
<g id="IMP85" transform="rotate(148.91)"><path class="dl" d="M224 0H255"/><circle class="hor" cx="224" r="3.3"/><text class="lb fl" transform="rotate(180)" x="-258" dy=".35em">IMP85</text></g>
<g id="IMP92" transform="rotate(153.12)"><path class="dl" d="M224 0H255"/><circle class="hor" cx="224" r="3.3"/><text class="lb fl" transform="rotate(180)" x="-258" dy=".35em">IMP92</text></g>
<g id="IMP95" transform="rotate(157.33)"><path class="dl" d="M224 0H255"/><circle class="hor" cx="224" r="3.3"/><text class="lb fl" transform="rotate(180)" x="-258" dy=".35em">IMP95</text></g>
<g id="IMP97" transform="rotate(161.54)"><path class="dl" d="M220 0H255"/><circle class="hor" cx="220" r="3.3"/><text class="lb fl" transform="rotate(180)" x="-258" dy=".35em">IMP97</text></g>
<g id="IMP75" transform="rotate(165.75)"><path class="dl" d="M225 0H255"/><circle class="hor" cx="225" r="3.3"/><text class="lb fl" transform="rotate(180)" x="-258" dy=".35em">IMP75</text></g>
<g id="IMP93" transform="rotate(169.96)"><path class="dl" d="M225 0H255"/><circle class="hor" cx="225" r="3.3"/><text class="lb fl" transform="rotate(180)" x="-258" dy=".35em">IMP93</text></g>
<g id="IMP94" transform="rotate(174.17)"><path class="dl" d="M225 0H255"/><circle class="hor" cx="225" r="3.3"/><text class="lb fl" transform="rotate(180)" x="-258" dy=".35em">IMP94</text></g>
<g id="IMP53" transform="rotate(178.38)"><path class="dl" d="M225 0H255"/><circle class="hor" cx="225" r="3.3"/><text class="lb fl" transform="rotate(180)" x="-258" dy=".35em">IMP53</text></g>
<g id="IMP19" transform="rotate(182.59)"><path class="dl" d="M225 0H255"/><circle class="hor" cx="225" r="3.3"/><text class="lb fl" transform="rotate(180)" x="-258" dy=".35em">IMP19</text></g>
<g id="IMP45" transform="rotate(186.8)"><path class="dl" d="M226 0H255"/><circle class="hor" cx="226" r="3.3"/><text class="lb fl" transform="rotate(180)" x="-258" dy=".35em">IMP45</text></g>
<g id="IMP77" transform="rotate(191.01)"><path class="dl" d="M226 0H255"/><circle class="hor" cx="226" r="3.3"/><text class="lb fl" transform="rotate(180)" x="-258" dy=".35em">IMP77</text></g>
<g id="IMP81" transform="rotate(195.22)"><path class="dl" d="M226 0H255"/><circle class="hor" cx="226" r="3.3"/><text class="lb fl" transform="rotate(180)" x="-258" dy=".35em">IMP81</text></g>
<g id="IMP82" transform="rotate(199.43)"><path class="dl" d="M226 0H255"/><circle class="hor" cx="226" r="3.3"/><text class="lb fl" transform="rotate(180)" x="-258" dy=".35em">IMP82</text></g>
</g>
</svg>
